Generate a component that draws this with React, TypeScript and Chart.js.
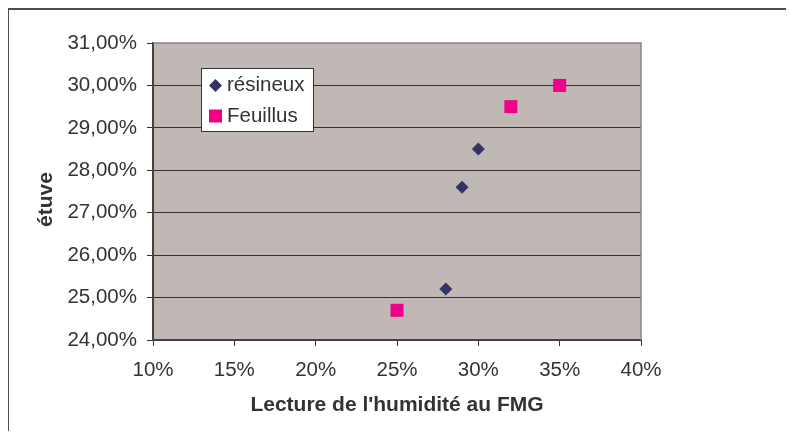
import React, { useEffect, useRef } from "react";
import { Chart, registerables } from "chart.js";

Chart.register(...registerables);

const seriesNames = ["résineux", "Feuillus"];
const resineuxX = [28, 29, 30];
const resineuxY = [25.2, 27.6, 28.5];
const feuillusX = [25, 32, 35];
const feuillusY = [24.7, 29.5, 30.0];
const xTicks = [10, 15, 20, 25, 30, 35, 40];
const yTicks = [24, 25, 26, 27, 28, 29, 30, 31];
const xTitle = "Lecture de l'humidité au FMG";
const yTitle = "étuve";

const FONT = "'Liberation Sans', Arial, Helvetica, sans-serif";
const TEXT = "#333333";
const NAVY = "#333366";
const PINK = "#EE0088";
const PLOT_BG = "#C0B8B5";

const framePlugin = {
  id: "frame",
  beforeDraw(chart: any) {
    const { ctx, chartArea: a } = chart;
    ctx.save();
    ctx.fillStyle = "#ffffff";
    ctx.fillRect(0, 0, chart.width, chart.height);
    ctx.fillStyle = PLOT_BG;
    ctx.fillRect(a.left, a.top, a.right - a.left, a.bottom - a.top);
    ctx.restore();
  },
  afterDraw(chart: any) {
    const { ctx, chartArea: a } = chart;
    ctx.save();
    // outer frame (left and top only visible)
    ctx.fillStyle = "#4d4d4d";
    ctx.fillRect(7, 8, 2, chart.height - 8);
    ctx.fillRect(7, 8, chart.width - 7, 2);
    // plot area border top/right
    ctx.strokeStyle = "#8c8282";
    ctx.lineWidth = 1.5;
    ctx.beginPath();
    ctx.moveTo(a.left, a.top);
    ctx.lineTo(a.right, a.top);
    ctx.lineTo(a.right, a.bottom);
    ctx.stroke();
    // y axis title
    ctx.save();
    ctx.translate(46, 199.5);
    ctx.rotate(-Math.PI / 2);
    ctx.fillStyle = TEXT;
    ctx.font = `bold 21px ${FONT}`;
    ctx.textAlign = "center";
    ctx.textBaseline = "middle";
    ctx.fillText(yTitle, 0, 0);
    ctx.restore();
    // legend
    const lx = 201, ly = 68, lw = 112, lh = 63;
    ctx.fillStyle = "#ffffff";
    ctx.fillRect(lx, ly, lw, lh);
    ctx.strokeStyle = "#333333";
    ctx.lineWidth = 1;
    ctx.strokeRect(lx + 0.5, ly + 0.5, lw, lh);
    const rows = [85.5, 116];
    chart.data.datasets.forEach((ds: any, i: number) => {
      const cy = rows[i];
      const cx = 215.5;
      ctx.fillStyle = ds.backgroundColor;
      if (ds.pointStyle === "rectRot") {
        ctx.beginPath();
        ctx.moveTo(cx, cy - 6.5);
        ctx.lineTo(cx + 6.5, cy);
        ctx.lineTo(cx, cy + 6.5);
        ctx.lineTo(cx - 6.5, cy);
        ctx.closePath();
        ctx.fill();
      } else {
        ctx.fillRect(cx - 6.5, cy - 6.5, 13, 13);
      }
      ctx.fillStyle = TEXT;
      ctx.font = `20.5px ${FONT}`;
      ctx.textBaseline = "middle";
      ctx.textAlign = "left";
      ctx.fillText(ds.label, 227, cy);
    });
    ctx.restore();
  },
};

export default function App() {
  const ref = useRef<HTMLCanvasElement>(null);

  useEffect(() => {
    if (!ref.current) return;
    const chart = new Chart(ref.current, {
      type: "scatter",
      data: {
        datasets: [
          {
            label: seriesNames[0],
            data: resineuxX.map((x, i) => ({ x, y: resineuxY[i] })),
            pointStyle: "rectRot",
            pointRadius: 6.5,
            pointBorderWidth: 0,
            backgroundColor: NAVY,
            borderColor: NAVY,
          },
          {
            label: seriesNames[1],
            data: feuillusX.map((x, i) => ({ x, y: feuillusY[i] })),
            pointStyle: "rect",
            pointRadius: 9.19,
            pointBorderWidth: 0,
            backgroundColor: PINK,
            borderColor: PINK,
          },
        ],
      },
      options: {
        responsive: false,
        animation: false,
        layout: { padding: { left: 0, top: 43, right: 153, bottom: 0 } },
        plugins: {
          legend: { display: false },
          tooltip: { enabled: false },
        },
        scales: {
          x: {
            type: "linear",
            min: xTicks[0],
            max: xTicks[xTicks.length - 1],
            afterBuildTicks: (s: any) => {
              s.ticks = xTicks.map((v) => ({ value: v }));
            },
            afterFit: (s: any) => {
              s.height = 99;
            },
            grid: {
              drawOnChartArea: false,
              drawTicks: true,
              tickLength: 6,
              color: "#333333",
            },
            border: { color: "#4a3f3f", width: 2 },
            ticks: {
              color: TEXT,
              font: { family: FONT, size: 20.5 },
              padding: 12,
              maxRotation: 0,
              callback: (v: any) => `${v}%`,
            },
            title: {
              display: true,
              text: xTitle,
              color: TEXT,
              font: { family: FONT, size: 21, weight: "bold" },
              padding: { top: 21, bottom: 21 },
            },
          },
          y: {
            type: "linear",
            min: yTicks[0],
            max: yTicks[yTicks.length - 1],
            afterBuildTicks: (s: any) => {
              s.ticks = yTicks.map((v) => ({ value: v }));
            },
            afterFit: (s: any) => {
              s.width = 153;
            },
            grid: {
              drawTicks: true,
              tickLength: 6,
              color: (c: any) =>
                c.tick && c.tick.value === yTicks[yTicks.length - 1]
                  ? "rgba(0,0,0,0)"
                  : "#333333",
              tickColor: "#333333",
              lineWidth: 1,
            },
            border: { color: "#4a3f3f", width: 2 },
            ticks: {
              color: TEXT,
              font: { family: FONT, size: 20.5 },
              padding: 10,
              callback: (v: any) => `${Number(v).toFixed(2).replace(".", ",")}%`,
            },
            title: { display: false },
          },
        },
      },
      plugins: [framePlugin],
    });
    return () => chart.destroy();
  }, []);

  return (
    <div style={{ position: "relative", width: 794, height: 439, margin: -8, overflow: "hidden" }}>
      <canvas ref={ref} width={794} height={439} style={{ display: "block", width: 794, height: 439 }} />
    </div>
  );
}
